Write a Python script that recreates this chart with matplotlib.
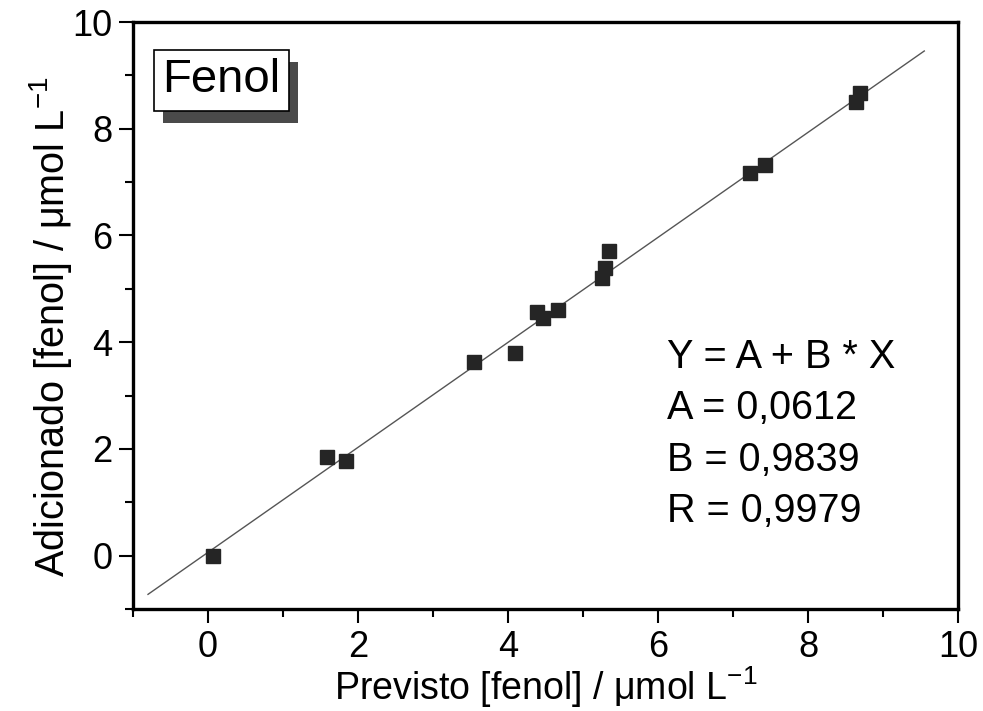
import numpy as np
import matplotlib
matplotlib.use('Agg')
import matplotlib.pyplot as plt
from matplotlib import patheffects

plt.rcParams['font.family'] = ['Liberation Sans', 'DejaVu Sans']

# valores
previsto = [0.07, 1.59, 1.84, 3.54, 4.09, 4.39, 4.46, 4.66, 5.25, 5.29, 5.35, 7.22, 7.43, 8.64, 8.69]
adicionado = [0.0, 1.85, 1.78, 3.63, 3.80, 4.57, 4.46, 4.61, 5.21, 5.39, 5.71, 7.17, 7.32, 8.50, 8.67]

A = 0.0612
B = 0.9839
R = 0.9979
x_fit = [-0.8, 9.55]

fig = plt.figure(figsize=(9.83, 7.11), dpi=100)
ax = fig.add_axes([0.1353, 0.1435, 0.8393, 0.8255])

xf = np.array(x_fit)
ax.plot(xf, A + B * xf, color='#555555', lw=1.0, zorder=2)
ax.plot(previsto, adicionado, 's', color='#252525', ms=9.5, zorder=3)

ax.set_xlim(-1, 10)
ax.set_ylim(-1, 10)
ax.set_xticks([0, 2, 4, 6, 8, 10])
ax.set_yticks([0, 2, 4, 6, 8, 10])
ax.set_xticks(np.arange(-1, 10, 2), minor=True)
ax.set_yticks(np.arange(-1, 10, 2), minor=True)
ax.tick_params(which='major', direction='out', length=10, width=1.5, pad=5, labelsize=26)
ax.tick_params(which='minor', direction='out', length=6, width=1.5)
for s in ax.spines.values():
    s.set_linewidth(2.4)

ax.set_xlabel(r'Previsto [fenol] / $\mathregular{\mu}$mol L$^{\mathregular{-1}}$',
              fontsize=27, labelpad=0)
ax.set_ylabel(r'Adicionado [fenol] / $\mathregular{\mu}$mol L$^{\mathregular{-1}}$',
              fontsize=28.5)
ax.yaxis.set_label_coords(-0.072, 0.48)

txt = 'Y = A + B * X\nA = {}\nB = {}\nR = {}'.format(
    str(A).replace('.', ','), str(B).replace('.', ','), str(R).replace('.', ','))
ax.text(0.647, 0.462, txt, transform=ax.transAxes, fontsize=28.5,
        va='top', ha='left', linespacing=1.45)

# caixa "Fenol" com sombra
t = ax.text(0.107, 0.901, 'Fenol', transform=ax.transAxes, fontsize=34, ha='center', va='center',
            bbox=dict(boxstyle='square,pad=0.18', fc='white', ec='black', lw=1.2), zorder=5)
t.get_bbox_patch().set_path_effects([
    patheffects.SimplePatchShadow(offset=(6.5, -8.6), shadow_rgbFace='#4a4a4a', alpha=1.0),
    patheffects.Normal()])

fig.savefig('out.png', dpi=100)
